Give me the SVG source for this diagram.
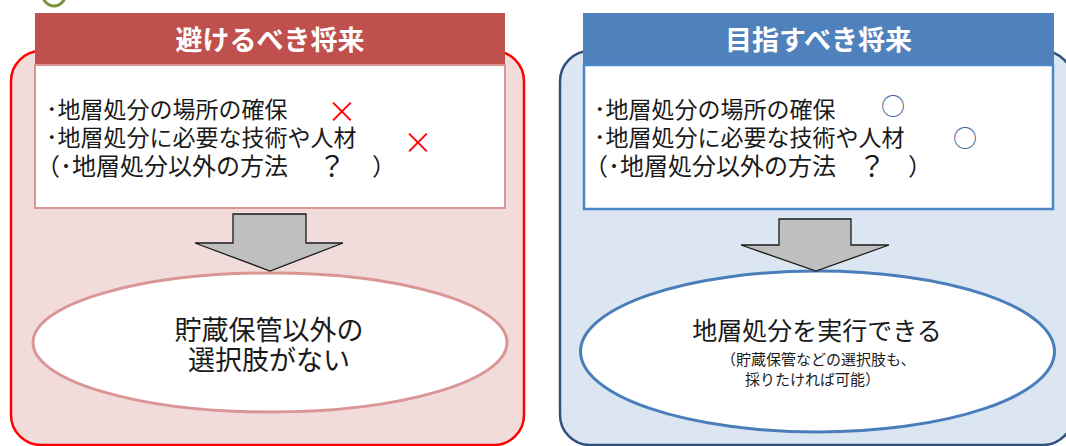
<svg xmlns="http://www.w3.org/2000/svg" width="1066" height="446" viewBox="0 0 1066 446">
<style>
text{font-family:"Noto Sans CJK JP","Noto Sans CJK SC",sans-serif;}
.hdr{font-size:27px;font-weight:bold;fill:#ffffff;text-anchor:middle}
.item{font-size:23px;fill:#1a1a1a}
.item3{font-size:24px;fill:#1a1a1a}
.q{font-size:28px;fill:#1a1a1a;text-anchor:middle}
.ell{font-size:27px;fill:#1a1a1a;text-anchor:middle}
.small{font-size:15px;fill:#1a1a1a}
.arrow{fill:#bfbfbf;stroke:#1a1a1a;stroke-width:1.3;stroke-linejoin:miter}
.cross{font-family:Inter,"Liberation Sans",sans-serif;font-weight:200;font-size:44px;fill:#ff0000;text-anchor:middle}
.ok{font-size:24px;fill:#3f6399;text-anchor:middle}
.ellL{fill:#ffffff;stroke:#d99694;stroke-width:3}
.ellR{fill:#ffffff;stroke:#4a7ebb;stroke-width:3}
</style>
<rect width="1066" height="446" fill="#ffffff"/>
<circle cx="54" cy="-5" r="11" fill="#ffffff" stroke="#77933c" stroke-width="3"/>

<g id="left-frame">
<rect x="11" y="51" width="513" height="394" rx="30" fill="#f2dcdb" stroke="#ff0000" stroke-width="2.5"/>
</g>
<g id="right-frame">
<rect x="560" y="51" width="513" height="394" rx="30" fill="#dce6f2" stroke="#2f5080" stroke-width="2.5"/>
</g>

<g id="left-header">
<rect x="35" y="13" width="470" height="52" fill="#c0504d"/>
<text class="hdr" x="270" y="50">避けるべき将来</text>
</g>
<g id="right-header">
<rect x="583" y="13" width="471" height="52" fill="#4f81bd"/>
<text class="hdr" x="818.5" y="50">目指すべき将来</text>
</g>

<g id="left-list">
<rect x="35" y="65" width="470" height="143" fill="#ffffff" stroke="#d99694" stroke-width="2"/>
<text class="item" x="46" y="118">･地層処分の場所の確保</text>
<text class="item" x="46" y="146">･地層処分に必要な技術や人材</text>
<text class="item3" x="36" y="175">（･地層処分以外の方法</text>
<text class="q" x="332" y="177">？</text>
<text class="item3" x="372" y="175">）</text>
<text class="cross" x="342" y="124">×</text>
<text class="cross" x="418" y="155">×</text>
</g>

<g id="right-list">
<rect x="584" y="65" width="469" height="144" fill="#ffffff" stroke="#4a86c8" stroke-width="2.5"/>
<text class="item" x="594" y="118">･地層処分の場所の確保</text>
<text class="item" x="594" y="146">･地層処分に必要な技術や人材</text>
<text class="item3" x="584" y="175">（･地層処分以外の方法</text>
<text class="q" x="872" y="177">？</text>
<text class="item3" x="908" y="175">）</text>
<text class="ok" x="893" y="115">○</text>
<text class="ok" x="965" y="147">○</text>
</g>

<g id="left-result">
<ellipse class="ellL" cx="270" cy="342.5" rx="237" ry="69.5"/>
<text class="ell" x="269" y="340">貯蔵保管以外の</text>
<text class="ell" x="269" y="370">選択肢がない</text>
</g>

<g id="right-result">
<ellipse class="ellR" cx="817.5" cy="351.5" rx="237" ry="80.5"/>
<text class="ell" x="817" y="340" style="font-size:25px">地層処分を実行できる</text>
<text class="small" x="721" y="365">（貯蔵保管などの選択肢も、</text>
<text class="small" x="745" y="385">採りたければ可能）</text>
</g>

<g id="connectors">
<polygon class="arrow" points="233,214 306,214 306,243 343,243 270,271 195,243 233,243"/>
<polygon class="arrow" points="779,219 851,219 851,245 889,245 816,271 741,245 779,245"/>
</g>
</svg>
